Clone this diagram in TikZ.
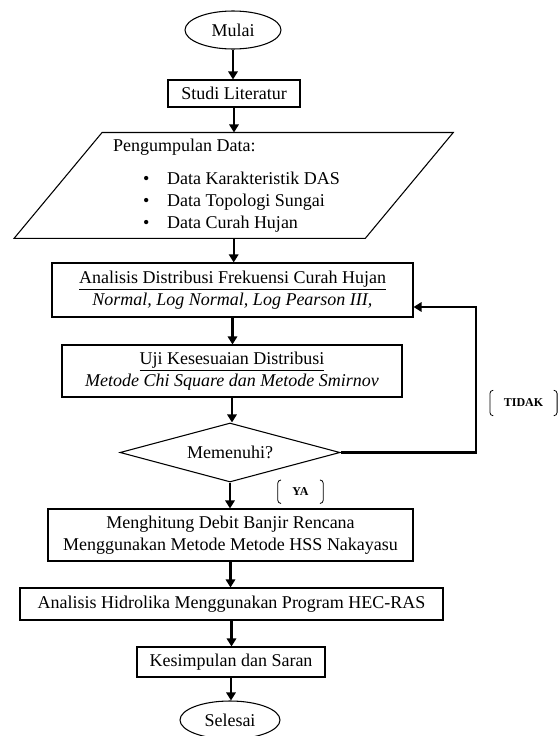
\documentclass[tikz,border=0pt]{standalone}
\usepackage{fontspec}
\setmainfont{Liberation Serif}
\usetikzlibrary{shapes.geometric,arrows.meta}

\begin{document}
\begin{tikzpicture}[x=0.75pt,y=-0.75pt,font=\fontsize{13.5}{16.5}\selectfont,
  proses/.style={draw,line width=0.8pt,inner sep=0pt,align=center},
  terminal/.style={ellipse,draw,line width=0.8pt,inner sep=0pt},
  keputusan/.style={diamond,draw,line width=0.8pt,inner sep=0pt,aspect=3.7},
  alur/.style={line width=1.6pt,-{Triangle[width=7pt,length=6pt]}},
  pilihan/.style={inner sep=0pt,font=\fontsize{9}{10}\selectfont\bfseries},
  kurung/.style={line width=0.6pt}]
\useasboundingbox (0,0) rectangle (560,736);
\node[terminal,minimum width=72pt,minimum height=28.5pt] (mulai) at (233,30) {Mulai};
\node[proses,minimum width=99pt,minimum height=20.25pt] (studi) at (234,93.5) {Studi Literatur};
\node[inner xsep=41pt,inner ysep=0pt,text width=181pt,minimum width=263pt,minimum height=79pt,align=flush left] (data) at (233.7,185.4)
  {Pengumpulan Data:\\[8pt]
   \hspace*{22.5pt}\makebox[18pt][l]{\textbullet}Data Karakteristik DAS\\
   \hspace*{22.5pt}\makebox[18pt][l]{\textbullet}Data Topologi Sungai\\
   \hspace*{22.5pt}\makebox[18pt][l]{\textbullet}Data Curah Hujan};
\draw[line width=0.8pt] ([xshift=33pt]data.north west) -- ([xshift=33pt]data.north east)
  -- ([xshift=-33pt]data.south east) -- ([xshift=-33pt]data.south west) -- cycle;
\node[proses,minimum width=270.75pt,minimum height=40.5pt] (analisis) at (232.5,290)
  {\underline{Analisis Distribusi Frekuensi Curah Hujan}\\\textit{Normal, Log Normal, Log Pearson III,}};
\node[proses,minimum width=255pt,minimum height=39pt] (uji) at (232,371)
  {\underline{Uji Kesesuaian Distribusi}\\\textit{Metode Chi Square dan Metode Smirnov}};
\node[keputusan,minimum width=165pt,minimum height=44.25pt] (memenuhi) at (230,452.5) {Memenuhi?};
\node[proses,minimum width=273.75pt,minimum height=39pt] (hitung) at (230.5,535)
  {Menghitung Debit Banjir Rencana\\Menggunakan Metode Metode HSS Nakayasu};
\node[proses,minimum width=317.25pt,minimum height=24pt] (hecras) at (231.5,604)
  {Analisis Hidrolika Menggunakan Program HEC-RAS};
\node[proses,minimum width=141pt,minimum height=22.5pt] (simpulan) at (231,662) {Kesimpulan dan Saran};
\node[terminal,minimum width=75pt,minimum height=28.5pt] (selesai) at (230,720) {Selesai};
% alur utama
\foreach \a/\b in {mulai/studi,studi/data,data/analisis,analisis/uji,uji/memenuhi,
  memenuhi/hitung,hitung/hecras,hecras/simpulan,simpulan/selesai}
  \draw[alur] (\a.south) -- (\a.south |- \b.north);
% kembali jika tidak memenuhi
\coordinate (balik) at (476,307);
\draw[alur] (memenuhi.east) -| (balik) -- (balik -| analisis.east);
\node[pilihan,minimum width=50pt,minimum height=18.75pt] (tidak) at (523.5,403) {TIDAK};
\node[pilihan,minimum width=33.75pt,minimum height=17.25pt] (ya) at (300.5,491.7) {YA};
\foreach \n in {tidak,ya}{
  \draw[kurung] ([xshift=2.5pt]\n.north west) arc[start angle=90,end angle=180,radius=2.5pt]
    -- ([yshift=2.5pt]\n.south west) arc[start angle=180,end angle=270,radius=2.5pt];
  \draw[kurung] ([xshift=-2.5pt]\n.north east) arc[start angle=90,end angle=0,radius=2.5pt]
    -- ([yshift=2.5pt]\n.south east) arc[start angle=0,end angle=-90,radius=2.5pt];
}
\end{tikzpicture}
\end{document}
